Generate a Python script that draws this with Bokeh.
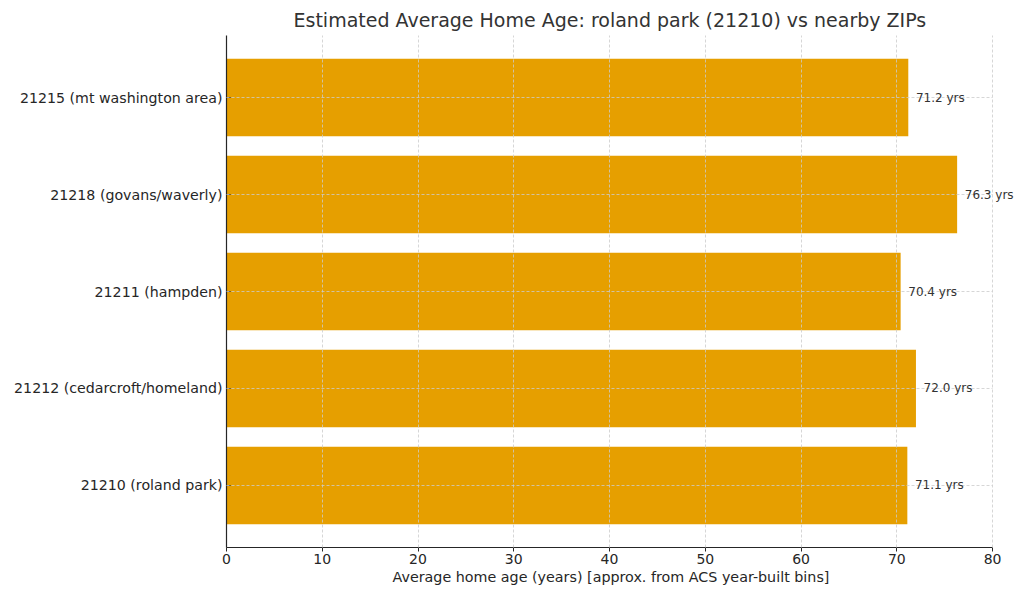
from bokeh.plotting import figure
from bokeh.models import Range1d, FixedTicker, ColumnDataSource, LabelSet, Title
from bokeh.core.properties import value
from bokeh.embed import file_html
from bokeh.resources import INLINE

# Data (bottom to top)
categories = [
    "21210 (roland park)",
    "21212 (cedarcroft/homeland)",
    "21211 (hampden)",
    "21218 (govans/waverly)",
    "21215 (mt washington area)",
]
ages = [71.1, 72.0, 70.4, 76.3, 71.2]
x_ticks = [0, 10, 20, 30, 40, 50, 60, 70, 80]
x_label = "Average home age (years) [approx. from ACS year-built bins]"

pos = list(range(len(categories)))
labels = [f"{a:.1f} yrs" for a in ages]
src = ColumnDataSource(dict(y=pos, right=ages, label=labels, lx=[a + 0.8 for a in ages]))

FONT = "DejaVu Sans"
p = figure(
    width=1016, height=589,
    output_backend="svg", toolbar_location=None,
    x_range=Range1d(0, 82.5), y_range=Range1d(-0.64, len(categories) - 1 + 0.64),
    title="Estimated Average Home Age: roland park (21210) vs nearby ZIPs",
    min_border_left=226, min_border_right=0, min_border_top=35, min_border_bottom=42,
)
p.outline_line_color = None
p.background_fill_color = "white"
p.border_fill_color = "white"

p.title.text_font = FONT
p.title.text_font_size = "19px"
p.title.text_font_style = "normal"
p.title.text_color = "#333333"
p.title.align = "left"
p.title.offset = 67

p.hbar(y="y", right="right", left=0, height=0.8, source=src,
       fill_color="#E69F00", line_color=None)

p.add_layout(LabelSet(x="lx", y="y", text="label", source=src,
                      text_font=value(FONT), text_font_size="12px", text_color="#333333",
                      text_baseline="middle", text_align="left", level="overlay"))

for g in (p.xgrid, p.ygrid):
    g.grid_line_color = "#cccccc"
    g.grid_line_dash = "3 2"
    g.grid_line_width = 0.8
    g.level = "overlay"
p.xgrid.bounds = (0, 80)
p.ygrid.cross_bounds = (0, 80)

p.xaxis.ticker = FixedTicker(ticks=x_ticks)
p.xaxis.bounds = (0, 80)
p.yaxis.ticker = FixedTicker(ticks=pos)
p.yaxis.major_label_overrides = {i: c for i, c in enumerate(categories)}

for ax in (p.xaxis, p.yaxis):
    ax.axis_line_color = "#262626"
    ax.axis_line_width = 1.2
    ax.major_tick_line_color = "#262626"
    ax.major_tick_in = 0
    ax.major_tick_out = 4
    ax.minor_tick_line_color = None
    ax.major_label_text_font = FONT
    ax.major_label_text_font_size = "14px"
    ax.major_label_text_color = "#262626"
p.yaxis.major_label_text_font_size = "14.2px"
p.yaxis.major_tick_out = 0
p.yaxis.major_tick_in = 4
p.xaxis.major_label_standoff = 2
p.yaxis.major_label_standoff = 4

xt = Title(text=x_label, align="left", offset=166, text_font=FONT,
           text_font_size="14.3px", text_font_style="normal", text_color="#262626",
           standoff=0)
p.add_layout(xt, "below")

open("out.html", "w").write(file_html(p, INLINE))
